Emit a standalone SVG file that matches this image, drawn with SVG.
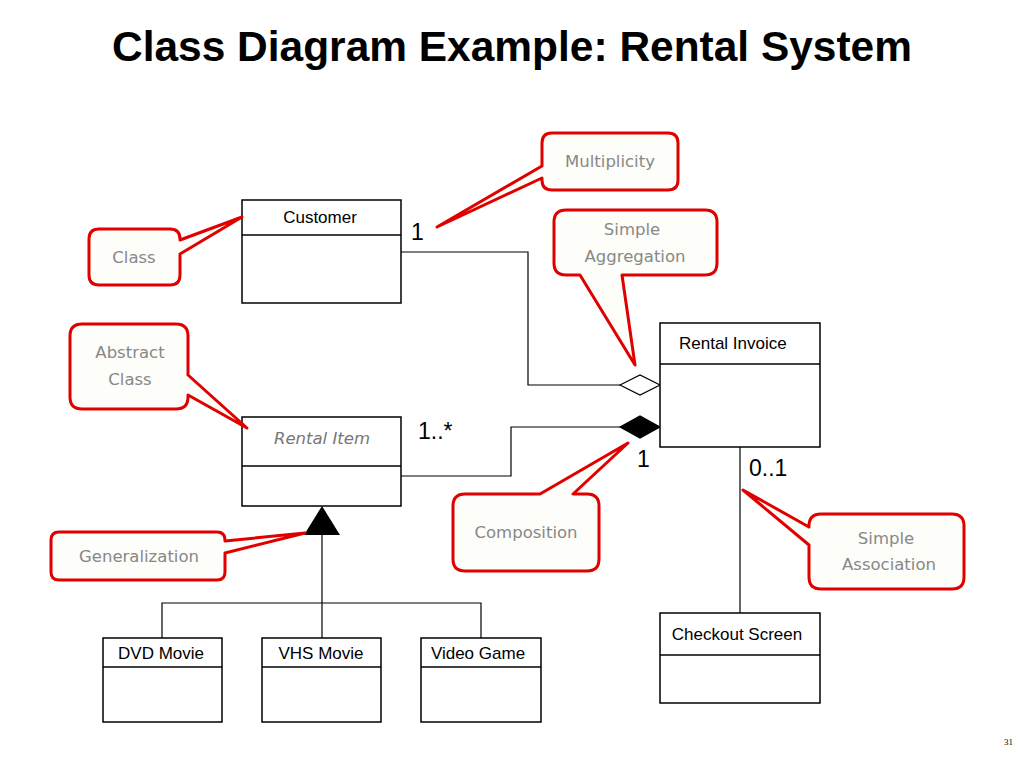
<svg xmlns="http://www.w3.org/2000/svg" width="1024" height="768" viewBox="0 0 1024 768">
<style>
.box{fill:#fff;stroke:#000;stroke-width:1.5}
.div{stroke:#000;stroke-width:1.5}
.cls{font-family:"Liberation Sans",Arial,sans-serif;font-size:17px;fill:#000}
.abs{font-family:"DejaVu Sans",sans-serif;font-style:italic;font-size:16.5px;fill:#777}
.mult{font-family:"Liberation Sans",Arial,sans-serif;font-size:23px;fill:#000}
.conn{fill:none;stroke:#000;stroke-width:1.2}
.call{fill:#fdfdf9;stroke:#e00000;stroke-width:3;stroke-linejoin:round}
.ct{font-family:"DejaVu Sans",sans-serif;font-size:16.5px;fill:#888;text-anchor:middle}
</style>
<rect width="1024" height="768" fill="#fff"/>
<text x="512" y="61" text-anchor="middle" textLength="800" lengthAdjust="spacingAndGlyphs" font-family="Liberation Sans,Arial,sans-serif" font-weight="bold" font-size="43">Class Diagram Example: Rental System</text>

<g id="connectors">
<polyline class="conn" points="401,252 528,252 528,385 620,385"/>
<polygon points="620,385 640,375 660,385 640,395" fill="#fff" stroke="#000" stroke-width="1.2"/>
<polyline class="conn" points="401,476 511,476 511,427 620,427"/>
<polygon points="620,427 640,416 660,427 640,438" fill="#000" stroke="#000" stroke-width="1.2"/>
<line class="conn" x1="740" y1="447" x2="740" y2="613"/>
<polygon points="322,506 304,535 340,535" fill="#000"/>
<line class="conn" x1="322" y1="535" x2="322" y2="638"/>
<polyline class="conn" points="162,638 162,603 481,603 481,638"/>
<text class="mult" x="411" y="240">1</text>
<text class="mult" x="418" y="439">1..*</text>
<text class="mult" x="637" y="467">1</text>
<text class="mult" x="749" y="476">0..1</text>
</g>

<g id="customer">
<rect class="box" x="242" y="200" width="159" height="103"/>
<line class="div" x1="242" y1="235" x2="401" y2="235"/>
<text class="cls" x="320" y="223" text-anchor="middle">Customer</text>
</g>
<g id="rental-invoice">
<rect class="box" x="660" y="323" width="160" height="124"/>
<line class="div" x1="660" y1="364" x2="820" y2="364"/>
<text class="cls" x="679" y="349">Rental Invoice</text>
</g>
<g id="rental-item">
<rect class="box" x="242" y="417" width="159" height="89"/>
<line class="div" x1="242" y1="466" x2="401" y2="466"/>
<text class="abs" x="322" y="444" text-anchor="middle">Rental Item</text>
</g>
<g id="checkout-screen">
<rect class="box" x="660" y="613" width="160" height="90"/>
<line class="div" x1="660" y1="655" x2="820" y2="655"/>
<text class="cls" x="737" y="640" text-anchor="middle">Checkout Screen</text>
</g>
<g id="dvd-movie">
<rect class="box" x="103" y="638" width="119" height="84"/>
<line class="div" x1="103" y1="667" x2="222" y2="667"/>
<text class="cls" x="161" y="659" text-anchor="middle">DVD Movie</text>
</g>
<g id="vhs-movie">
<rect class="box" x="262" y="638" width="119" height="84"/>
<line class="div" x1="262" y1="667" x2="381" y2="667"/>
<text class="cls" x="321" y="659" text-anchor="middle">VHS Movie</text>
</g>
<g id="video-game">
<rect class="box" x="421" y="638" width="120" height="84"/>
<line class="div" x1="421" y1="667" x2="541" y2="667"/>
<text class="cls" x="478" y="659" text-anchor="middle">Video Game</text>
</g>

<g id="callout-multiplicity">
<path class="call" d="M552,133 H668 Q678,133 678,143 V180 Q678,190 668,190 H552 Q542,190 542,180 V178 L437,227 L542,166 V143 Q542,133 552,133 Z"/>
<text class="ct" x="610" y="167">Multiplicity</text>
</g>
<g id="callout-aggregation">
<path class="call" d="M566,210 H705 Q717,210 717,222 V263 Q717,275 705,275 H622 L635,365 L580,275 H566 Q554,275 554,263 V222 Q554,210 566,210 Z"/>
<text class="ct" x="632" y="235">Simple</text>
<text class="ct" x="635" y="262">Aggregation</text>
</g>
<g id="callout-class">
<path class="call" d="M99,229 H170 Q180,229 180,239 V240 L242,217 L180,254 V275 Q180,285 170,285 H99 Q89,285 89,275 V239 Q89,229 99,229 Z"/>
<text class="ct" x="134" y="263">Class</text>
</g>
<g id="callout-abstract">
<path class="call" d="M82,324 H176 Q188,324 188,336 V375 L247,428 L188,395 V397 Q188,409 176,409 H82 Q70,409 70,397 V336 Q70,324 82,324 Z"/>
<text class="ct" x="130" y="358">Abstract</text>
<text class="ct" x="130" y="385">Class</text>
</g>
<g id="callout-composition">
<path class="call" d="M465,494 H540 L628,443 L573,494 H587 Q599,494 599,506 V559 Q599,571 587,571 H465 Q453,571 453,559 V506 Q453,494 465,494 Z"/>
<text class="ct" x="526" y="538">Composition</text>
</g>
<g id="callout-association">
<path class="call" d="M821,514 H952 Q964,514 964,526 V577 Q964,589 952,589 H821 Q809,589 809,577 V545 L743,490 L809,527 V526 Q809,514 821,514 Z"/>
<text class="ct" x="886" y="544">Simple</text>
<text class="ct" x="889" y="570">Association</text>
</g>
<g id="callout-generalization">
<path class="call" d="M59,532 H217 Q225,532 225,540 V541 L305,533 L225,553 V572 Q225,580 217,580 H59 Q51,580 51,572 V540 Q51,532 59,532 Z"/>
<text class="ct" x="139" y="562">Generalization</text>
</g>

<text x="1013" y="745" text-anchor="end" font-family="Liberation Serif,serif" font-size="9" fill="#000">31</text>
</svg>
